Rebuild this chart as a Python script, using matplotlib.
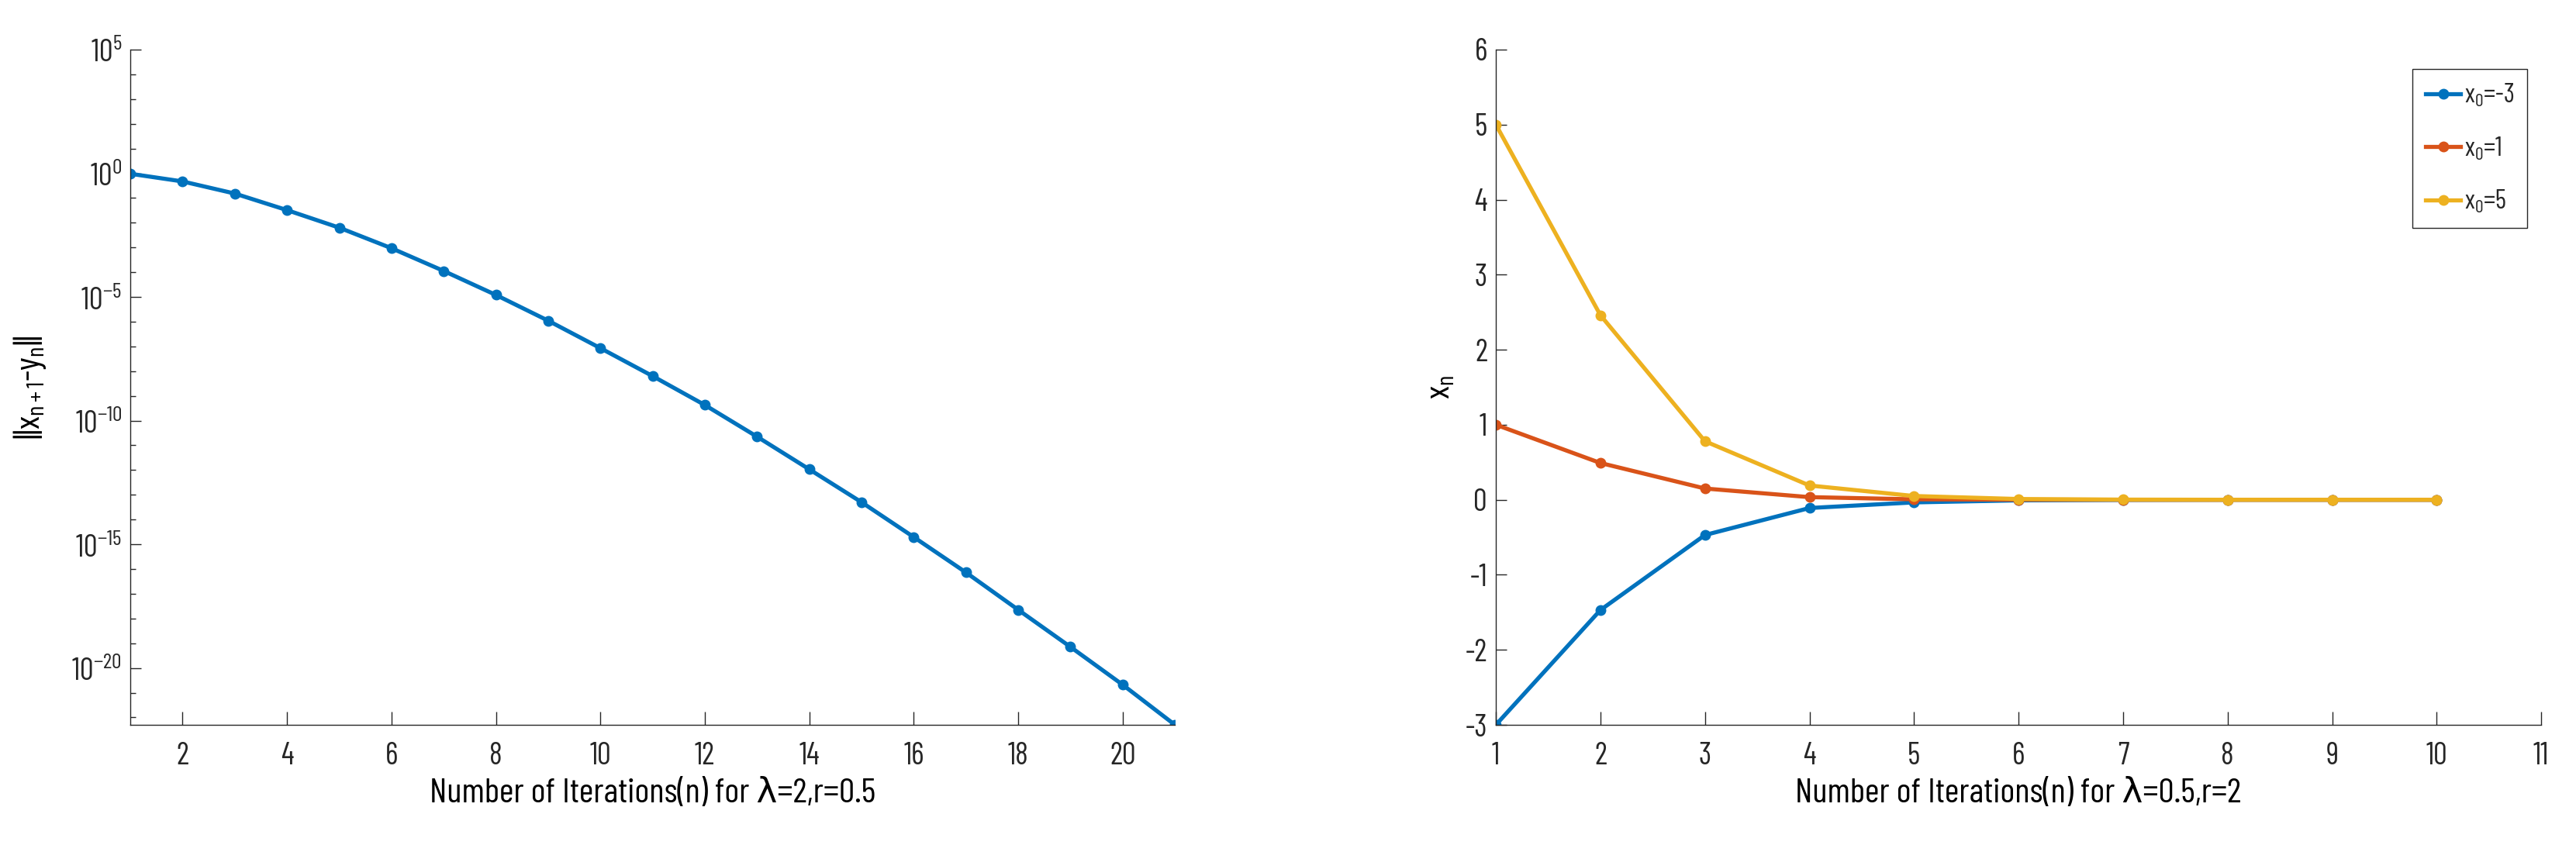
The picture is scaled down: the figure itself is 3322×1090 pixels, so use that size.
import matplotlib
matplotlib.use("Agg")
import matplotlib.pyplot as plt
from matplotlib import font_manager
from matplotlib.ticker import FixedLocator, NullFormatter

# left panel: log10 of ||x_{n+1}-y_n|| per iteration
iters_left = list(range(1, 22))
log_err = [-0.02, -0.33, -0.82, -1.49, -2.2, -3.03, -3.95, -4.92, -5.96, -7.07,
           -8.2, -9.37, -10.65, -11.97, -13.3, -14.71, -16.14, -17.65, -19.15,
           -20.68, -22.3]
err = [10.0 ** v for v in log_err]

# right panel: x_n for three starting points
iters_right = list(range(1, 11))
x_m3 = [-3, -1.47, -0.47, -0.11, -0.035, -0.008, -0.002, 0, 0, 0]
x_1 = [1, 0.49, 0.15, 0.035, 0.006, 0.001, 0, 0, 0, 0]
x_5 = [5, 2.46, 0.78, 0.19, 0.05, 0.01, 0.002, 0, 0, 0]
labels_right = ["x$_0$=-3", "x$_0$=1", "x$_0$=5"]

blue, red, yellow = "#0072BD", "#D95319", "#EDB120"
dark = "#262626"

names = {f.name for f in font_manager.fontManager.ttflist}
fam = "Liberation Sans"
for cand in ["Barlow Condensed", "Archivo Narrow", "Roboto Condensed"]:
    if cand in names:
        fam = cand
        break
plt.rcParams["font.family"] = [fam, "DejaVu Sans"]
plt.rcParams["mathtext.fontset"] = "custom"
plt.rcParams["mathtext.rm"] = fam
plt.rcParams["mathtext.it"] = fam
plt.rcParams["mathtext.default"] = "regular"
plt.rcParams["axes.unicode_minus"] = False
plt.rcParams["text.color"] = dark

fig = plt.figure(figsize=(33.22, 10.90), dpi=100)
ax1 = fig.add_axes([0.0506, 0.1422, 0.4055, 0.7991])
ax2 = fig.add_axes([0.5807, 0.1422, 0.4058, 0.7991])

for ax in (ax1, ax2):
    ax.spines["top"].set_visible(False)
    ax.spines["right"].set_visible(False)
    for s in ("left", "bottom"):
        ax.spines[s].set_color(dark)
        ax.spines[s].set_linewidth(1.0)
    ax.tick_params(direction="in", colors=dark, labelsize=28, width=1)
    ax.tick_params(axis="x", length=12, pad=16)
    ax.tick_params(axis="y", length=10, pad=8)
    ax.tick_params(which="minor", direction="in", length=5, width=1, colors=dark)

# left
ax1.semilogy(iters_left, err, "-o", color=blue, lw=3.8, ms=9)
ax1.set_xlim(1, 21)
ax1.set_ylim(err[-1], 1e5)
ax1.set_xticks(range(2, 21, 2))
ax1.yaxis.set_major_locator(FixedLocator([10.0 ** k for k in range(-20, 6, 5)]))
ax1.set_yticklabels(["10$^{%d}$" % k for k in range(-20, 6, 5)])
ax1.yaxis.set_minor_locator(FixedLocator([10.0 ** k for k in range(-22, 6)]))
ax1.yaxis.set_minor_formatter(NullFormatter())
ax1.set_xlabel("Number of Iterations(n) for λ=2,r=0.5", fontsize=32, labelpad=7)
ax1.set_ylabel("||x$_{n+1}$-y$_n$||", fontsize=32, labelpad=22)

# right
for ys, c, lab in zip([x_m3, x_1, x_5], [blue, red, yellow], labels_right):
    ax2.plot(iters_right, ys, "-o", color=c, lw=3.8, ms=9, label=lab)
ax2.set_xlim(1, 11)
ax2.set_ylim(-3, 6)
ax2.set_xticks(range(1, 12))
ax2.set_yticks(range(-3, 7))
ax2.set_xlabel("Number of Iterations(n) for λ=0.5,r=2", fontsize=32, labelpad=7)
ax2.set_ylabel("x$_n$", fontsize=32, labelpad=8)

# scale the text so the x label is as wide as in the reference (about 576 px)
fig.canvas.draw()
w = ax1.xaxis.label.get_window_extent().width
k = min(max(576.0 / w, 0.75), 1.35)
for ax in (ax1, ax2):
    ax.tick_params(labelsize=28 * k)
    ax.xaxis.label.set_fontsize(32 * k)
    ax.yaxis.label.set_fontsize(32 * k)

leg = ax2.legend(loc="upper right", bbox_to_anchor=(0.9866, 0.9713), borderaxespad=0,
                 fontsize=24 * k, handlelength=1.3, handletextpad=0.15, labelspacing=1.0,
                 borderpad=0.5, fancybox=False, framealpha=1)
leg.get_frame().set_edgecolor(dark)
leg.get_frame().set_linewidth(1.0)

fig.savefig("out.png", dpi=100)
